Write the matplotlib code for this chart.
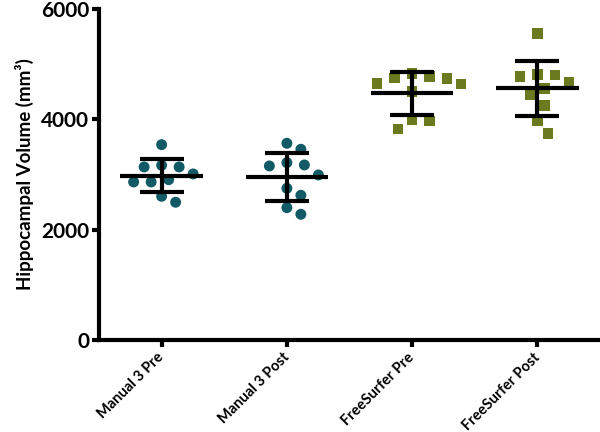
import numpy as np
import matplotlib
matplotlib.use("Agg")
import matplotlib.pyplot as plt

categories = ["Manual 3 Pre", "Manual 3 Post", "FreeSurfer Pre", "FreeSurfer Post"]
manual_pre = [3541, 3167, 3137, 3137, 3010, 2906, 2865, 2865, 2605, 2497]
manual_post = [3566, 3457, 3215, 3173, 3155, 2992, 2750, 2623, 2399, 2279]
fs_pre = [4835, 4774, 4750, 4745, 4654, 4641, 4502, 4001, 3970, 3825]
fs_post = [5561, 4817, 4804, 4774, 4672, 4563, 4442, 4248, 3970, 3747]
groups = [manual_pre, manual_post, fs_pre, fs_post]
yticks = [0, 2000, 4000, 6000]

teal = "#115a66"
olive = "#6b7a1e"
colors = [teal, teal, olive, olive]
markers = ["o", "o", "s", "s"]

plt.rcParams["font.family"] = ["Lato", "DejaVu Sans"]

W, H = 600, 432
fig = plt.figure(figsize=(W / 100, H / 100), dpi=100)
ax = fig.add_axes([99 / W, 1 - 340 / H, 1 - 99 / W, (340 - 9) / H])
ax.set_xlim(-0.5, 3.5)
ax.set_ylim(0, 6000)

ppu_x = (W - 99) / 4.0
ppu_y = (340 - 9) / 6000.0


def swarm(vals, d=15.0, step=3.5):
    placed = []
    offs = []
    for v in vals:
        y = v * ppu_y
        cands = sorted([s * k * step for k in range(0, 30) for s in (1, -1)],
                       key=lambda c: (abs(c), -c))
        for c in cands:
            if all((c - px) ** 2 + (y - py) ** 2 >= d ** 2 for px, py in placed):
                placed.append((c, y))
                offs.append(c / ppu_x)
                break
    return np.array(offs)


for i, vals in enumerate(groups):
    vals = np.array(vals, dtype=float)
    xo = swarm(vals)
    ax.scatter(i + xo, vals, s=62 if markers[i] == "o" else 58, marker=markers[i],
               color=colors[i], edgecolors="none", zorder=2)
    m = vals.mean()
    sd = vals.std(ddof=1)
    ax.plot([i - 0.33, i + 0.33], [m, m], color="black", lw=3, solid_capstyle="butt", zorder=3)
    ax.plot([i, i], [m - sd, m + sd], color="black", lw=3, solid_capstyle="butt", zorder=3)
    for yy in (m - sd, m + sd):
        ax.plot([i - 0.176, i + 0.176], [yy, yy], color="black", lw=3,
                solid_capstyle="butt", zorder=3)

for s in ("top", "right"):
    ax.spines[s].set_visible(False)
for s in ("left", "bottom"):
    ax.spines[s].set_linewidth(3)

ax.set_yticks(yticks)
ax.set_yticklabels([str(t) for t in yticks], fontsize=15, fontweight="bold")
ax.set_xticks(range(len(categories)))
ax.set_xticklabels(categories, rotation=45, ha="right", va="center", rotation_mode="anchor",
                   fontsize=10.5, fontweight="bold")
ax.tick_params(axis="both", length=5, width=3, direction="out", pad=2)
ax.tick_params(axis="x", pad=6)
ax.set_ylabel("Hippocampal Volume (mm³)", fontsize=13.5, fontweight="bold", labelpad=5)

fig.savefig("out.png", dpi=100)
